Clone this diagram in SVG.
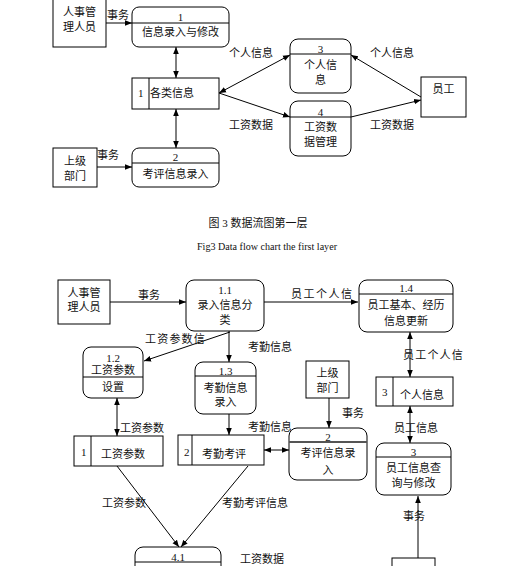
<svg xmlns="http://www.w3.org/2000/svg" width="513" height="566" viewBox="0 0 513 566">
<defs>
<marker id="ah" viewBox="0 0 10 10" refX="10" refY="5" markerWidth="7" markerHeight="7" markerUnits="userSpaceOnUse" orient="auto-start-reverse"><path d="M0,1 L10,5 L0,9z" fill="#000"/></marker>
<style>
rect,line.d{fill:#fff;stroke:#000;stroke-width:1}
line.d{fill:none}
.c line{stroke:#000;stroke-width:1;fill:none}
.e{marker-end:url(#ah)}
.b{marker-start:url(#ah);marker-end:url(#ah)}
text{font-family:"Liberation Serif","Noto Sans CJK SC",serif;font-size:11px;fill:#111}
.m{text-anchor:middle}
</style>
</defs>
<rect x="0" y="0" width="513" height="566" style="stroke:none"/>

<!-- connectors top -->
<g id="connectors-top" class="c">
<line class="e" x1="106" y1="23" x2="132" y2="23"/>
<line class="b" x1="176" y1="47" x2="176" y2="78"/>
<line class="b" x1="176" y1="109" x2="176" y2="148"/>
<line class="e" x1="97" y1="167" x2="132" y2="167"/>
<line class="b" x1="219" y1="93" x2="290" y2="55"/>
<line class="e" x1="219" y1="93" x2="290" y2="117"/>
<line class="e" x1="421" y1="97" x2="351" y2="55"/>
<line class="e" x1="351" y1="117" x2="421" y2="100"/>
<text x="107" y="19">事务</text>
<text x="97" y="159">事务</text>
<text x="229" y="57">个人信息</text>
<text x="229" y="129">工资数据</text>
<text x="370" y="57">个人信息</text>
<text x="370" y="129">工资数据</text>
</g>

<g id="hr-top"><rect x="53" y="-1" width="53" height="48"/><text class="m" x="79.5" y="16">人事管</text><text class="m" x="79.5" y="31">理人员</text></g>
<g id="p1"><rect x="132" y="7" width="97" height="40" rx="7"/><line class="d" x1="132" y1="23" x2="229" y2="23"/><text class="m" x="180.5" y="21">1</text><text class="m" x="180.5" y="36">信息录入与修改</text></g>
<g id="d1"><rect x="132" y="78" width="87" height="31"/><line class="d" x1="149" y1="78" x2="149" y2="109"/><text x="138" y="97">1</text><text x="150" y="97">各类信息</text></g>
<g id="p2"><rect x="132" y="148" width="87" height="39" rx="7"/><line class="d" x1="132" y1="163" x2="219" y2="163"/><text class="m" x="175.5" y="161">2</text><text class="m" x="175.5" y="178">考评信息录入</text></g>
<g id="boss-top"><rect x="53" y="148" width="44" height="39"/><text class="m" x="75" y="165">上级</text><text class="m" x="75" y="180">部门</text></g>
<g id="p3"><rect x="290" y="39" width="61" height="54" rx="8"/><line class="d" x1="290" y1="54" x2="351" y2="54"/><text class="m" x="320.5" y="53">3</text><text class="m" x="320.5" y="69">个人信</text><text class="m" x="320.5" y="84">息</text></g>
<g id="p4"><rect x="290" y="101" width="61" height="55" rx="8"/><line class="d" x1="290" y1="117" x2="351" y2="117"/><text class="m" x="320.5" y="116">4</text><text class="m" x="320.5" y="131">工资数</text><text class="m" x="320.5" y="146">据管理</text></g>
<g id="emp-top"><rect x="421" y="77" width="45" height="40"/><text class="m" x="443.5" y="93">员工</text></g>

<g id="caption">
<text class="m" x="258" y="227">图 3 数据流图第一层</text>
<text x="197" y="250" style="font-size:10px" textLength="140" lengthAdjust="spacingAndGlyphs">Fig3 Data flow chart the first layer</text>
</g>

<!-- connectors bottom -->
<g id="connectors-bottom" class="c">
<line class="e" x1="110" y1="302" x2="186" y2="302"/>
<line class="e" x1="264" y1="302" x2="358" y2="302"/>
<line class="b" x1="410" y1="332" x2="410" y2="377"/>
<line class="e" x1="230" y1="332" x2="144" y2="361"/>
<line class="e" x1="229" y1="331" x2="229" y2="362"/>
<line class="e" x1="329" y1="398" x2="329" y2="428"/>
<line class="e" x1="229" y1="414" x2="229" y2="435"/>
<line class="b" x1="117" y1="398" x2="117" y2="436"/>
<line class="b" x1="264" y1="450" x2="289" y2="450"/>
<line class="b" x1="410" y1="406" x2="410" y2="443"/>
<line class="e" x1="418" y1="558" x2="418" y2="496"/>
<line class="e" x1="117" y1="466" x2="179" y2="547"/>
<line class="e" x1="248" y1="466" x2="181" y2="547"/>
<text x="138" y="299">事务</text>
<text x="291" y="298" style="letter-spacing:1.5px">员工个人信</text>
<text x="403" y="359" style="letter-spacing:1.2px">员工个人信</text>
<text x="145" y="343" style="letter-spacing:1.2px">工资参数信</text>
<text x="248" y="351">考勤信息</text>
<text x="342" y="417">事务</text>
<text x="248" y="431">考勤信息</text>
<text x="120" y="432">工资参数</text>
<text x="394" y="432">员工信息</text>
<text x="403" y="520">事务</text>
<text x="102" y="507">工资参数</text>
<text x="222" y="507">考勤考评信息</text>
<text x="240" y="563">工资数据</text>
</g>

<g id="hr-bottom"><rect x="58" y="280" width="52" height="44"/><text class="m" x="84" y="297">人事管</text><text class="m" x="84" y="311">理人员</text></g>
<g id="p1-1"><rect x="186" y="280" width="78" height="51" rx="8"/><text class="m" x="225" y="294">1.1</text><text class="m" x="225" y="309">录入信息分</text><text class="m" x="225" y="324">类</text></g>
<g id="p1-4"><rect x="359" y="280" width="94" height="52" rx="8"/><line class="d" x1="359" y1="294" x2="453" y2="294"/><text class="m" x="406" y="292">1.4</text><text class="m" x="406" y="309">员工基本、经历</text><text class="m" x="406" y="325">信息更新</text></g>
<g id="d3"><rect x="376" y="377" width="77" height="29"/><line class="d" x1="393" y1="377" x2="393" y2="406"/><text x="382" y="396">3</text><text x="400" y="399">个人信息</text></g>
<g id="boss-bottom"><rect x="306" y="361" width="43" height="37"/><text class="m" x="327.5" y="377">上级</text><text class="m" x="327.5" y="392">部门</text></g>
<g id="p1-2"><rect x="83" y="347" width="60" height="51" rx="8"/><line class="d" x1="83" y1="377" x2="143" y2="377"/><text class="m" x="113" y="362">1.2</text><text class="m" x="113" y="374">工资参数</text><text class="m" x="113" y="391">设置</text></g>
<g id="p1-3"><rect x="195" y="362" width="61" height="52" rx="8"/><line class="d" x1="195" y1="376" x2="256" y2="376"/><text class="m" x="225.5" y="375">1.3</text><text class="m" x="225.5" y="392">考勤信息</text><text class="m" x="225.5" y="406">录入</text></g>
<g id="d-b1"><rect x="74" y="436" width="89" height="30"/><line class="d" x1="91" y1="436" x2="91" y2="466"/><text x="81" y="456">1</text><text x="101" y="458">工资参数</text></g>
<g id="d-b2"><rect x="178" y="435" width="86" height="30"/><line class="d" x1="192" y1="435" x2="192" y2="465"/><text x="184" y="456">2</text><text x="202" y="458">考勤考评</text></g>
<g id="p-b2"><rect x="289" y="428" width="78" height="52" rx="8"/><line class="d" x1="289" y1="442" x2="367" y2="442" style="stroke:#555;stroke-width:2"/><text class="m" x="328" y="441">2</text><text class="m" x="328" y="457">考评信息录</text><text class="m" x="328" y="474">入</text></g>
<g id="p-b3"><rect x="376" y="443" width="75" height="52" rx="8"/><line class="d" x1="376" y1="457" x2="451" y2="457"/><text class="m" x="413.5" y="456">3</text><text class="m" x="413.5" y="472">员工信息查</text><text class="m" x="413.5" y="487">询与修改</text></g>
<g id="p4-1"><rect x="135" y="547" width="86" height="30" rx="8"/><line class="d" x1="135" y1="562" x2="221" y2="562"/><text class="m" x="178" y="561">4.1</text></g>
<g id="emp-bottom"><rect x="392" y="558" width="43" height="30"/></g>
</svg>
